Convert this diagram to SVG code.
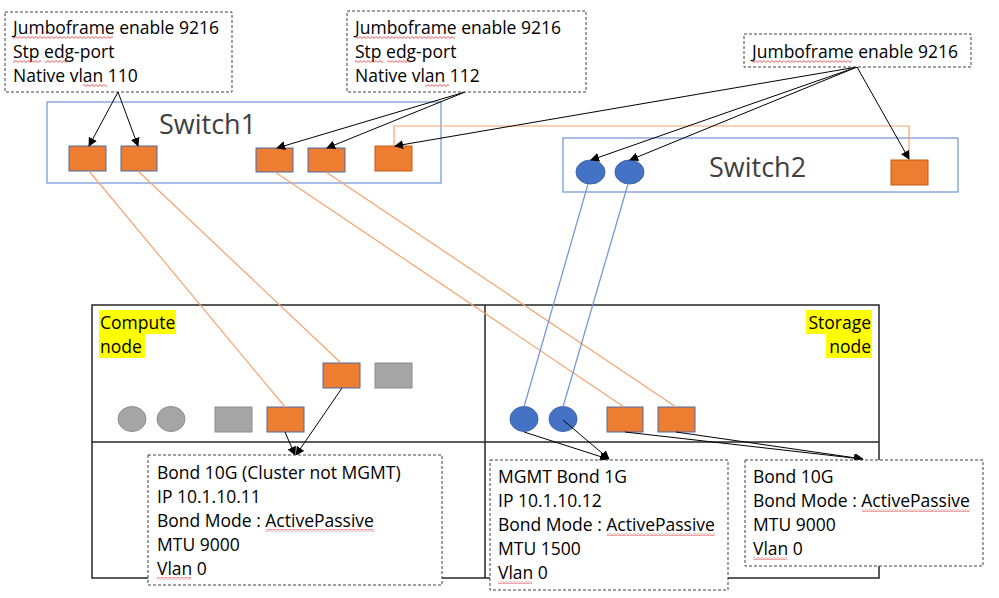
<svg xmlns="http://www.w3.org/2000/svg" width="999" height="598" viewBox="0 0 999 598">
<defs>
<style>
.note{fill:#fff;stroke:#404040;stroke-width:1;stroke-dasharray:3 2}
.t{font-family:"Open Sans","Noto Sans","Liberation Sans",sans-serif;font-size:17.5px;fill:#000}
.sw{fill:none;stroke:#6f93d6;stroke-width:1.2}
.swt{font-family:"Open Sans","Noto Sans","Liberation Sans",sans-serif;font-size:27px;fill:#404040}
.port{fill:#ed7d31;stroke:#4a6aa8;stroke-width:1}
.porto{fill:#ed7d31;stroke:#c55a11;stroke-width:1}
.blue{fill:#4472c4;stroke:#3b64ad;stroke-width:1}
.gray{fill:#a5a5a5;stroke:#8c8c8c;stroke-width:1}
.ol{fill:none;stroke:#f4a36e;stroke-width:1.2}
.bl{fill:none;stroke:#6f93d6;stroke-width:1.2}
.ar{fill:none;stroke:#000;stroke-width:1;marker-end:url(#ah)}
.chassis{fill:none;stroke:#262626;stroke-width:1.5}
.hl{fill:#ffff00}
.sq{fill:url(#squig)}
</style>
<marker id="ah" viewBox="0 0 10 10" refX="9" refY="5" markerWidth="9" markerHeight="9" markerUnits="userSpaceOnUse" orient="auto">
<path d="M0,0 L10,5 L0,10 z" fill="#000"/>
</marker>
<pattern id="squig" patternUnits="userSpaceOnUse" x="0" y="0" width="4" height="3">
<path d="M0,0.6 L2,2.4 L4,0.6" fill="none" stroke="#e03030" stroke-width="0.8"/>
</pattern>
</defs>

<g id="chassis">
<rect class="chassis" x="92" y="305" width="787" height="273"/>
<line class="chassis" x1="92" y1="442" x2="879" y2="442"/>
<line class="chassis" x1="485" y1="305" x2="485" y2="578"/>
</g>

<g id="compute-node">
<rect class="hl" x="99" y="310" width="77" height="24"/>
<rect class="hl" x="99" y="334" width="46" height="24"/>
<text class="t" x="100" y="329">Compute</text>
<text class="t" x="100" y="353">node</text>
<ellipse class="gray" cx="132" cy="419" rx="14" ry="12.5"/>
<ellipse class="gray" cx="171" cy="419" rx="14" ry="12.5"/>
<rect class="gray" x="215" y="407" width="37" height="25"/>
<rect class="port" x="267" y="407" width="37" height="25"/>
<rect class="port" x="323" y="363" width="37" height="25"/>
<rect class="gray" x="375" y="363" width="37" height="25"/>
</g>

<g id="storage-node">
<rect class="hl" x="806" y="310" width="66" height="24"/>
<rect class="hl" x="826" y="334" width="46" height="24"/>
<text class="t" x="871" y="329" text-anchor="end">Storage</text>
<text class="t" x="871" y="353" text-anchor="end">node</text>
<ellipse class="blue" cx="524" cy="419" rx="14" ry="12.5"/>
<ellipse class="blue" cx="563" cy="419" rx="14" ry="12.5"/>
<rect class="port" x="607" y="407" width="36" height="25"/>
<rect class="port" x="658" y="407" width="37" height="25"/>
</g>

<g id="switch1">
<rect class="sw" x="47" y="102" width="394" height="81"/>
<text class="swt" x="159" y="134">Switch1</text>
<rect class="port" x="69" y="146" width="37" height="25"/>
<rect class="port" x="121" y="146" width="36" height="25"/>
<rect class="port" x="256" y="148" width="37" height="24"/>
<rect class="port" x="308" y="148" width="37" height="24"/>
<rect class="porto" x="375" y="146" width="37" height="25"/>
</g>

<g id="switch2">
<rect class="sw" x="563" y="138" width="395" height="54"/>
<text class="swt" x="709" y="177">Switch2</text>
<ellipse class="blue" cx="590.5" cy="172" rx="14.5" ry="12"/>
<ellipse class="blue" cx="629.5" cy="172" rx="14.5" ry="12"/>
<rect class="porto" x="891" y="160" width="37" height="25"/>
</g>

<g id="connectors">
<polyline class="ol" points="394,146 394,126 909,126 909,160"/>
<line class="ol" x1="89" y1="171" x2="285" y2="407"/>
<line class="ol" x1="138" y1="171" x2="341" y2="363"/>
<line class="ol" x1="275" y1="172" x2="624" y2="407"/>
<line class="ol" x1="326" y1="172" x2="676" y2="407"/>
<line class="bl" x1="588" y1="184" x2="524" y2="407"/>
<line class="bl" x1="628" y1="184" x2="563" y2="407"/>
<line class="ar" x1="118" y1="92" x2="89" y2="146"/>
<line class="ar" x1="118" y1="92" x2="138" y2="146"/>
<line class="ar" x1="465" y1="92" x2="277" y2="148"/>
<line class="ar" x1="465" y1="92" x2="327" y2="148"/>
<line class="ar" x1="857" y1="67" x2="395" y2="146"/>
<line class="ar" x1="857" y1="67" x2="591" y2="160"/>
<line class="ar" x1="857" y1="67" x2="630" y2="160"/>
<line class="ar" x1="857" y1="67" x2="909" y2="159"/>
<line class="ar" x1="285" y1="432" x2="295" y2="455"/>
<line class="ar" x1="342" y1="388" x2="296" y2="455"/>
<line class="ar" x1="524" y1="432" x2="608" y2="459"/>
<line class="ar" x1="563" y1="420" x2="609" y2="459"/>
<line class="ar" x1="625" y1="432" x2="862" y2="459"/>
<line class="ar" x1="676" y1="432" x2="863" y2="459"/>
</g>

<g id="note-vlan110">
<rect class="note" x="5" y="12" width="227" height="80"/>
<text class="t" x="13" y="34">Jumboframe enable 9216</text>
<text class="t" x="13" y="58">Stp edg-port</text>
<text class="t" x="13" y="82">Native vlan 110</text>
<rect class="sq" x="13" y="36" width="100" height="3"/>
<rect class="sq" x="13" y="60" width="28" height="3"/>
<rect class="sq" x="45" y="60" width="24" height="3"/>
<rect class="sq" x="83" y="84" width="24" height="3"/>
</g>

<g id="note-vlan112">
<rect class="note" x="347" y="11" width="239" height="81"/>
<text class="t" x="355" y="34">Jumboframe enable 9216</text>
<text class="t" x="355" y="58">Stp edg-port</text>
<text class="t" x="355" y="82">Native vlan 112</text>
<rect class="sq" x="355" y="36" width="100" height="3"/>
<rect class="sq" x="355" y="60" width="28" height="3"/>
<rect class="sq" x="387" y="60" width="24" height="3"/>
<rect class="sq" x="425" y="84" width="24" height="3"/>
</g>

<g id="note-switch2">
<rect class="note" x="744" y="34" width="227" height="33"/>
<text class="t" x="752" y="58">Jumboframe enable 9216</text>
<rect class="sq" x="752" y="60" width="100" height="3"/>
</g>

<g id="note-compute-bond">
<rect class="note" x="148" y="455" width="294" height="130"/>
<text class="t" x="157" y="479">Bond 10G (Cluster not MGMT)</text>
<text class="t" x="157" y="503">IP 10.1.10.11</text>
<text class="t" x="157" y="527">Bond Mode : ActivePassive</text>
<text class="t" x="157" y="551">MTU 9000</text>
<text class="t" x="157" y="575">Vlan 0</text>
<rect class="sq" x="266" y="529" width="108" height="3"/>
<rect class="sq" x="157" y="577" width="34" height="3"/>
</g>

<g id="note-mgmt-bond">
<rect class="note" x="490" y="460" width="238" height="130"/>
<text class="t" x="498" y="483">MGMT Bond 1G</text>
<text class="t" x="498" y="507">IP 10.1.10.12</text>
<text class="t" x="498" y="531">Bond Mode : ActivePassive</text>
<text class="t" x="498" y="555">MTU 1500</text>
<text class="t" x="498" y="579">Vlan 0</text>
<rect class="sq" x="607" y="533" width="108" height="3"/>
<rect class="sq" x="498" y="581" width="34" height="3"/>
</g>

<g id="note-storage-bond">
<rect class="note" x="745" y="460" width="238" height="106"/>
<text class="t" x="753" y="483">Bond 10G</text>
<text class="t" x="753" y="507">Bond Mode : ActivePassive</text>
<text class="t" x="753" y="531">MTU 9000</text>
<text class="t" x="753" y="555">Vlan 0</text>
<rect class="sq" x="862" y="509" width="108" height="3"/>
<rect class="sq" x="753" y="557" width="34" height="3"/>
</g>
</svg>
